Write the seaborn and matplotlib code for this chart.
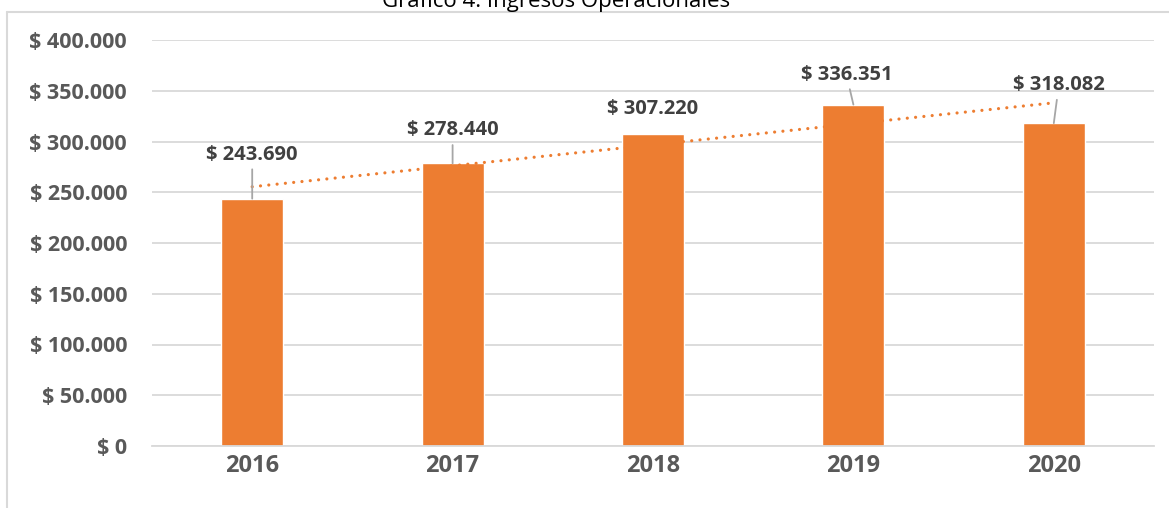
import numpy as np
import pandas as pd
import matplotlib
matplotlib.use("Agg")
import matplotlib.pyplot as plt
from matplotlib.lines import Line2D
import seaborn as sns

# --- data ---
years = ["2016", "2017", "2018", "2019", "2020"]
ingresos = [243690, 278440, 307220, 336351, 318082]
y_ticks = [0, 50000, 100000, 150000, 200000, 250000, 300000, 350000, 400000]

# label placement (pixels from bar top) and whether a leader line is drawn
label_dx = [0, 0, 0, -7, 5]
label_dy = [44, 33, 25, 30, 38]
leader = [True, True, False, True, True]

ORANGE = "#ED7D31"
GRID = "#D9D9D9"
TICK = "#595959"
LABEL = "#404040"


def pesos(v):
    return "$ " + f"{v:,.0f}".replace(",", ".")


sns.set_theme(style="white")
plt.rcParams["font.family"] = ["Open Sans", "DejaVu Sans"]

df = pd.DataFrame({"year": years, "ingresos": ingresos})

fig = plt.figure(figsize=(11.69, 5.08), dpi=100)
ax = fig.add_axes([152 / 1169, 62 / 508, 1002 / 1169, 406 / 508])

sns.barplot(data=df, x="year", y="ingresos", color=ORANGE, saturation=1,
            width=0.31, ax=ax, zorder=2)

# linear trend line like Excel's
xs = np.arange(len(years))
m, b = np.polyfit(xs, ingresos, 1)
ax.plot(xs, m * xs + b, color=ORANGE, lw=2.3, linestyle=(0, (0.01, 2.6)),
        dash_capstyle="round", zorder=3)

# data labels
for i, v in enumerate(ingresos):
    arrow = dict(arrowstyle="-", color="#A6A6A6", lw=1.3, shrinkA=1, shrinkB=0) if leader[i] else None
    ax.annotate(pesos(v), xy=(i, v), xytext=(label_dx[i], label_dy[i]),
                textcoords="offset pixels", ha="center", va="center",
                fontsize=14.5, fontweight="bold", color=LABEL,
                arrowprops=arrow, zorder=4)

ax.set_xlim(-0.5, len(years) - 0.5)
ax.set_ylim(0, 400000)
ax.set_yticks(y_ticks)
ax.set_yticklabels([pesos(t) for t in y_ticks])
ax.yaxis.grid(True, color=GRID, lw=1.3, zorder=0)
ax.set_axisbelow(True)
ax.set_xlabel("")
ax.set_ylabel("")
ax.tick_params(axis="y", length=0, pad=18, labelsize=15.5, labelcolor=TICK)
ax.tick_params(axis="x", length=0, pad=6, labelsize=17, labelcolor=TICK)
for t in ax.get_xticklabels() + ax.get_yticklabels():
    t.set_fontweight("bold")
for s in ["top", "right", "left"]:
    ax.spines[s].set_visible(False)
ax.spines["bottom"].set_color(GRID)
ax.spines["bottom"].set_linewidth(1.3)

# chart frame and title (clipped at the top edge, as in the source image)
fig.add_artist(Line2D([7 / 1169, 1], [1 - 12 / 508, 1 - 12 / 508], color=GRID, lw=1.5))
fig.add_artist(Line2D([7 / 1169, 7 / 1169], [0, 1 - 12 / 508], color=GRID, lw=1.5))
fig.text(556 / 1169, 1 - 7 / 508, "Gráfico 4. Ingresos Operacionales",
         ha="center", va="baseline", fontsize=16, color="#000000")

fig.savefig("out.png", dpi=100)
